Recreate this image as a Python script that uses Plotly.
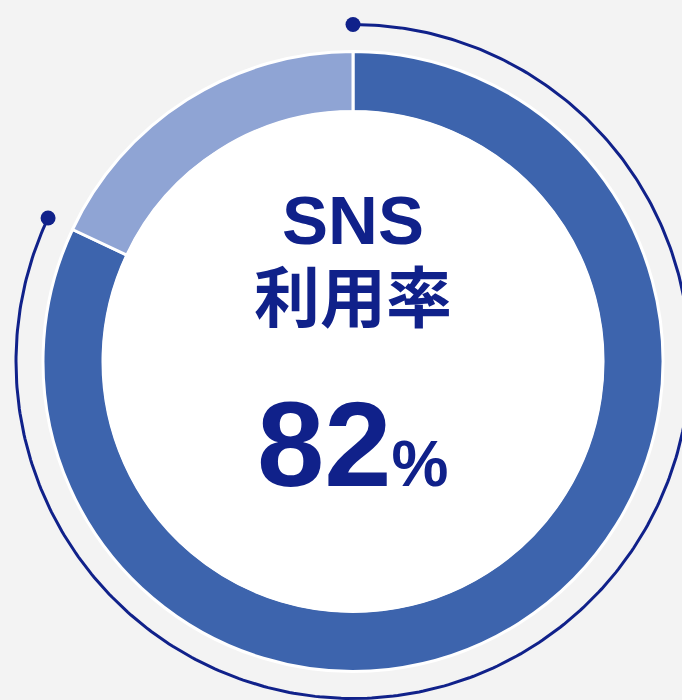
import numpy as np
import plotly.graph_objects as go

# ---- data ----
labels = ["利用している", "利用していない"]
values = [82, 18]
slice_colors = ["#3d64ad", "#8fa4d4"]
title_lines = ["SNS", "利用率"]
rate_text = "82"
unit_text = "%"

W, H = 682, 700
cx, cy = 353, 338.5       # centre (data coords, y up)
R_out, R_in, R_arc = 310, 250, 337

NAVY = "#10218a"
BG = "#f3f3f3"

fig = go.Figure()

# outer progress arc, derived from the first value
share = values[0] / sum(values)
t = np.linspace(0, 2 * np.pi * share, 400)
fig.add_trace(go.Scatter(
    x=cx + R_arc * np.sin(t), y=cy + R_arc * np.cos(t),
    mode="lines", line=dict(color=NAVY, width=3),
    hoverinfo="skip", showlegend=False))
fig.add_trace(go.Scatter(
    x=[cx + R_arc * np.sin(t[0]), cx + R_arc * np.sin(t[-1])],
    y=[cy + R_arc * np.cos(t[0]), cy + R_arc * np.cos(t[-1])],
    mode="markers", marker=dict(color=NAVY, size=15),
    hoverinfo="skip", showlegend=False))

fig.add_trace(go.Pie(
    labels=labels, values=values, sort=False, direction="clockwise",
    rotation=0, hole=R_in / R_out, textinfo="none", hoverinfo="label+percent",
    marker=dict(colors=slice_colors, line=dict(color="white", width=3)),
    domain=dict(x=[(cx - R_out) / W, (cx + R_out) / W],
                y=[(cy - R_out) / H, (cy + R_out) / H]),
    showlegend=False))

fig.add_shape(type="circle", xref="x", yref="y", layer="above",
              x0=cx - R_in - 1, x1=cx + R_in + 1, y0=cy - R_in - 1, y1=cy + R_in + 1,
              fillcolor="white", line=dict(width=0))

title_html = ("<b><span style='font-family:Liberation Sans, Arial;font-size:69px'>%s</span><br>"
              "<span style='font-size:66px'>%s</span></b>") % (title_lines[0], title_lines[1])
fig.add_annotation(x=cx, y=cy + 100, xref="x", yref="y", text=title_html,
                   showarrow=False,
                   font=dict(family="Noto Sans CJK JP", size=60, color=NAVY))
fig.add_annotation(x=cx, y=cy - 82, xref="x", yref="y",
                   text="<b>%s<span style='font-size:64px'>%s</span></b>" % (rate_text, unit_text),
                   showarrow=False, font=dict(family="Liberation Sans, Arial", size=121, color=NAVY))

fig.update_layout(
    width=W, height=H, margin=dict(l=0, r=0, t=0, b=0),
    paper_bgcolor=BG, plot_bgcolor=BG,
    xaxis=dict(range=[0, W], visible=False, fixedrange=True),
    yaxis=dict(range=[0, H], visible=False, fixedrange=True),
)

fig.write_html("out.html", config={"displayModeBar": False},
               post_script="document.body.style.margin='0';document.body.style.overflow='hidden';")
